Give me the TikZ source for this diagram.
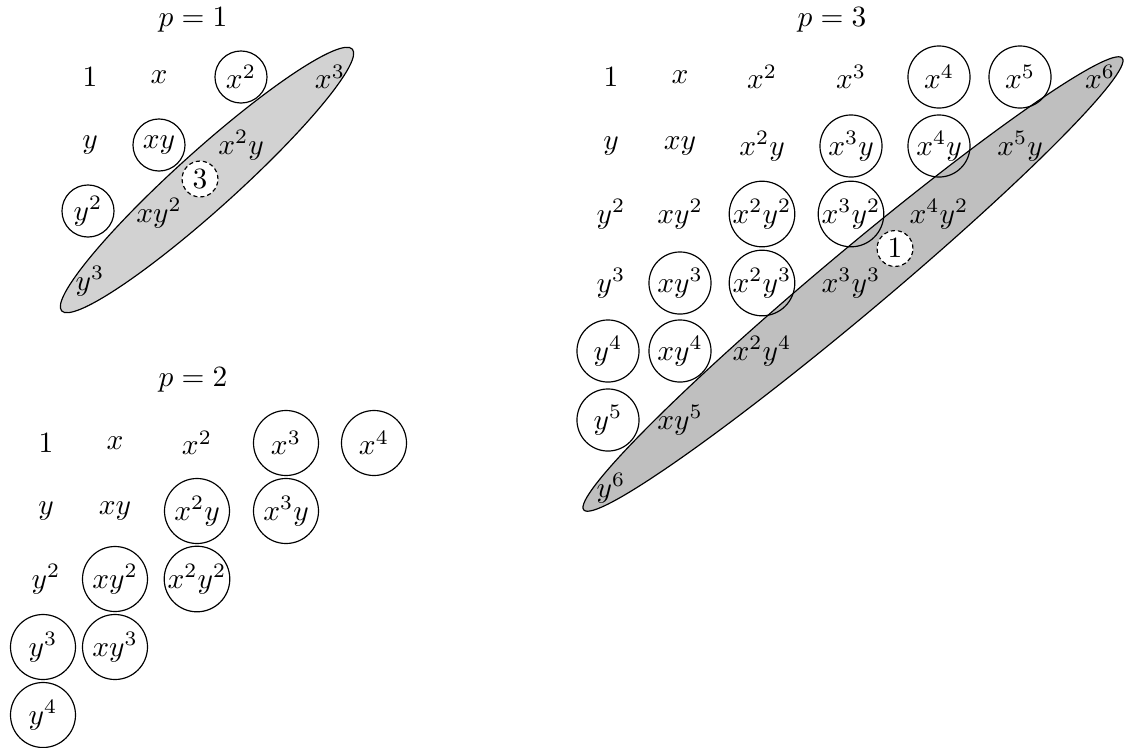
\documentclass[tikz,border=0pt]{standalone}
\usetikzlibrary{calc,shapes.geometric}

\begin{document}
\begin{tikzpicture}[
    x=0.34pt, y=-0.34pt,
    term/.style={inner sep=0pt},
    ring1/.style={draw, circle, inner sep=0pt, minimum size=17.7pt},
    ring2/.style={draw, circle, inner sep=0pt, minimum size=22.1pt},
    ring3/.style={draw, circle, inner sep=0pt, minimum size=21.1pt},
    hole/.style={draw, dash pattern=on 1.4pt off 1pt, circle, fill=white, inner sep=0pt, minimum size=12.2pt},
    band/.style={draw, ellipse, inner sep=0pt}
  ]
    \useasboundingbox (0,0) rectangle (1124,747);
    % shaded bands of the top degree
    \node[band, fill=gray!35, rotate=42, minimum width=133pt, minimum height=20pt] (band1) at (207,180) {};
    \node[band, fill=gray!50, rotate=40, minimum width=239pt, minimum height=21.5pt] (band3) at (853,284) {};

    % p = 1
    \node (lab1) at (193,20) {$p=1$};
    \node[term] (p1-00) at (90,77) {$1$};
    \node[term] (p1-10) at (159,77) {$x$};
    \node[ring1] (p1-20) at (241,77) {$x^2$};
    \node[term] (p1-30) at (330,77) {$x^3$};
    \node[term] (p1-01) at (90,145) {$y$};
    \node[ring1] (p1-11) at (159,145) {$xy$};
    \node[term] (p1-21) at (241,145) {$x^2y$};
    \node[ring1] (p1-02) at (88,211) {$y^2$};
    \node[term] (p1-12) at (159,213) {$xy^2$};
    \node[term] (p1-03) at (90,281) {$y^3$};
    \node[hole] (gap1) at ($(p1-21)!0.5!(p1-12)$) {$3$};

    % p = 2
    \node (lab2) at (193,380) {$p=2$};
    \node[term] (p2-00) at (46,443) {$1$};
    \node[term] (p2-10) at (115,443) {$x$};
    \node[term] (p2-20) at (197,443) {$x^2$};
    \node[ring2] (p2-30) at (286,443) {$x^3$};
    \node[ring2] (p2-40) at (374,443) {$x^4$};
    \node[term] (p2-01) at (46,511) {$y$};
    \node[term] (p2-11) at (115,511) {$xy$};
    \node[ring2] (p2-21) at (197,511) {$x^2y$};
    \node[ring2] (p2-31) at (286,511) {$x^3y$};
    \node[term] (p2-02) at (46,579) {$y^2$};
    \node[ring2] (p2-12) at (115,579) {$xy^2$};
    \node[ring2] (p2-22) at (197,579) {$x^2y^2$};
    \node[ring2] (p2-03) at (43,647) {$y^3$};
    \node[ring2] (p2-13) at (115,647) {$xy^3$};
    \node[ring2] (p2-04) at (43,715) {$y^4$};

    % p = 3
    \node (lab3) at (832,20) {$p=3$};
    \node[term] (p3-00) at (611,77) {$1$};
    \node[term] (p3-10) at (680,77) {$x$};
    \node[term] (p3-20) at (762,77) {$x^2$};
    \node[term] (p3-30) at (851,77) {$x^3$};
    \node[ring3] (p3-40) at (939,77) {$x^4$};
    \node[ring3] (p3-50) at (1020,77) {$x^5$};
    \node[term] (p3-60) at (1100,77) {$x^6$};
    \node[term] (p3-01) at (611,146) {$y$};
    \node[term] (p3-11) at (680,146) {$xy$};
    \node[term] (p3-21) at (762,146) {$x^2y$};
    \node[ring3] (p3-31) at (851,146) {$x^3y$};
    \node[ring3] (p3-41) at (939,146) {$x^4y$};
    \node[term] (p3-51) at (1020,146) {$x^5y$};
    \node[term] (p3-02) at (611,214) {$y^2$};
    \node[term] (p3-12) at (680,214) {$xy^2$};
    \node[ring3] (p3-22) at (762,214) {$x^2y^2$};
    \node[ring3] (p3-32) at (851,214) {$x^3y^2$};
    \node[term] (p3-42) at (939,214) {$x^4y^2$};
    \node[term] (p3-03) at (611,283) {$y^3$};
    \node[ring3] (p3-13) at (680,283) {$xy^3$};
    \node[ring3] (p3-23) at (762,283) {$x^2y^3$};
    \node[term] (p3-33) at (851,283) {$x^3y^3$};
    \node[ring3] (p3-04) at (608,351) {$y^4$};
    \node[ring3] (p3-14) at (680,351) {$xy^4$};
    \node[term] (p3-24) at (762,351) {$x^2y^4$};
    \node[ring3] (p3-05) at (608,420) {$y^5$};
    \node[term] (p3-15) at (680,420) {$xy^5$};
    \node[term] (p3-06) at (611,488) {$y^6$};
    \node[hole] (gap3) at ($(p3-42)!0.5!(p3-33)$) {$1$};
  \end{tikzpicture}
\end{document}
